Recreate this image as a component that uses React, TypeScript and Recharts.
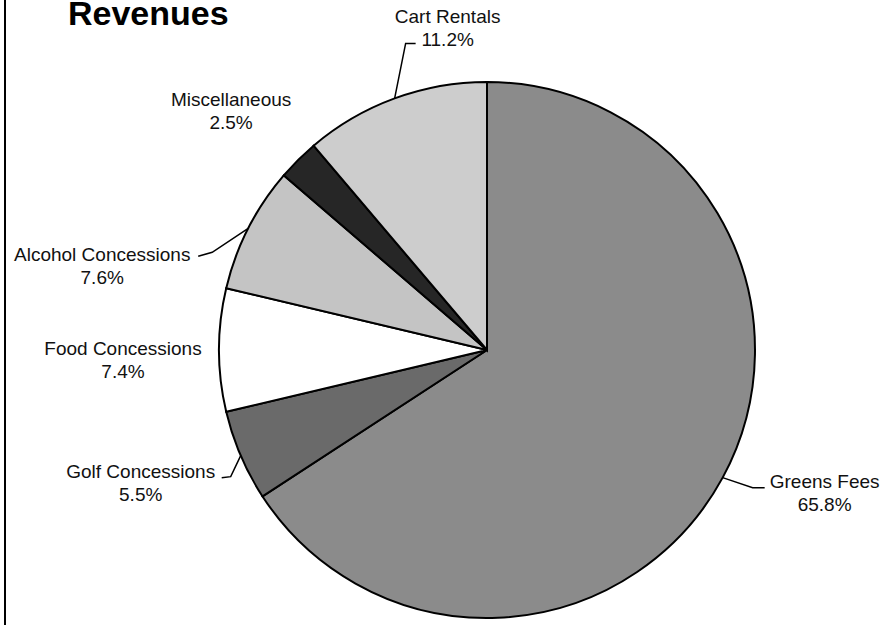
import { Cell, Pie, PieChart } from "recharts";

const categories = [
  "Greens Fees",
  "Golf Concessions",
  "Food Concessions",
  "Alcohol Concessions",
  "Miscellaneous",
  "Cart Rentals",
];
const shares = [65.8, 5.5, 7.4, 7.6, 2.5, 11.2];

const FILLS = ["#8b8b8b", "#6a6a6a", "#ffffff", "#c4c4c4", "#262626", "#cdcdcd"];

// where each label sits, relative to the point where the slice's mid-angle meets the rim
const LABEL_PLACE: Record<string, { dx: number; dy: number; leader?: [number, number][] }> = {
  "Greens Fees": { dx: 102, dy: 4, leader: [[30, 10], [42, 10]] },
  "Golf Concessions": { dx: -100, dy: 16, leader: [[-10, 21], [-19, 22]] },
  "Food Concessions": { dx: -96, dy: -2 },
  "Alcohol Concessions": { dx: -146, dy: 26, leader: [[-36, 24], [-50, 28]] },
  Miscellaneous: { dx: -67, dy: -60 },
  "Cart Rentals": { dx: 53, dy: -82, leader: [[11, -55], [21, -55]] },
};

const data = categories.map((name, i) => ({ name, value: shares[i] }));

const RADIAN = Math.PI / 180;
const FONT = "'Liberation Sans', Arial, sans-serif";

function renderLabel(props: any) {
  const { cx, cy, midAngle, outerRadius, name, value } = props;
  const ex = cx + outerRadius * Math.cos(-midAngle * RADIAN);
  const ey = cy + outerRadius * Math.sin(-midAngle * RADIAN);
  const place = LABEL_PLACE[name];
  const tx = ex + place.dx;
  const ty = ey + place.dy;
  const pts = place.leader
    ? [[ex, ey], ...place.leader.map(([x, y]) => [ex + x, ey + y])]
    : null;
  return (
    <g key={name}>
      {pts ? (
        <polyline
          points={pts.map((p) => p.join(",")).join(" ")}
          fill="none"
          stroke="#000"
          strokeWidth={1.5}
        />
      ) : null}
      <text x={tx} y={ty} textAnchor="middle" dominantBaseline="central" fontFamily={FONT} fontSize={19} fill="#111">
        {name}
      </text>
      <text x={tx} y={ty + 23} textAnchor="middle" dominantBaseline="central" fontFamily={FONT} fontSize={19} fill="#111">
        {value.toFixed(1)}%
      </text>
    </g>
  );
}

export default function App() {
  return (
    <div style={{ position: "absolute", left: 0, top: 0, width: 888, height: 625, background: "#fff", overflow: "hidden" }}>
      <div style={{ position: "absolute", left: 4, top: 0, width: 2, height: 625, background: "#000" }} />
      <div
        style={{
          position: "absolute",
          left: 68,
          top: -7,
          fontFamily: FONT,
          fontWeight: "bold",
          fontSize: 34,
          lineHeight: "40px",
          color: "#000",
        }}
      >
        Revenues
      </div>
      <PieChart width={888} height={625} margin={{ top: 0, right: 0, bottom: 0, left: 0 }}>
        <Pie
          data={data}
          dataKey="value"
          nameKey="name"
          cx={487}
          cy={350}
          outerRadius={268}
          startAngle={90}
          endAngle={-270}
          stroke="#000"
          strokeWidth={2}
          label={renderLabel}
          labelLine={false}
          isAnimationActive={false}
        >
          {data.map((d, i) => (
            <Cell key={d.name} fill={FILLS[i]} />
          ))}
        </Pie>
      </PieChart>
    </div>
  );
}
